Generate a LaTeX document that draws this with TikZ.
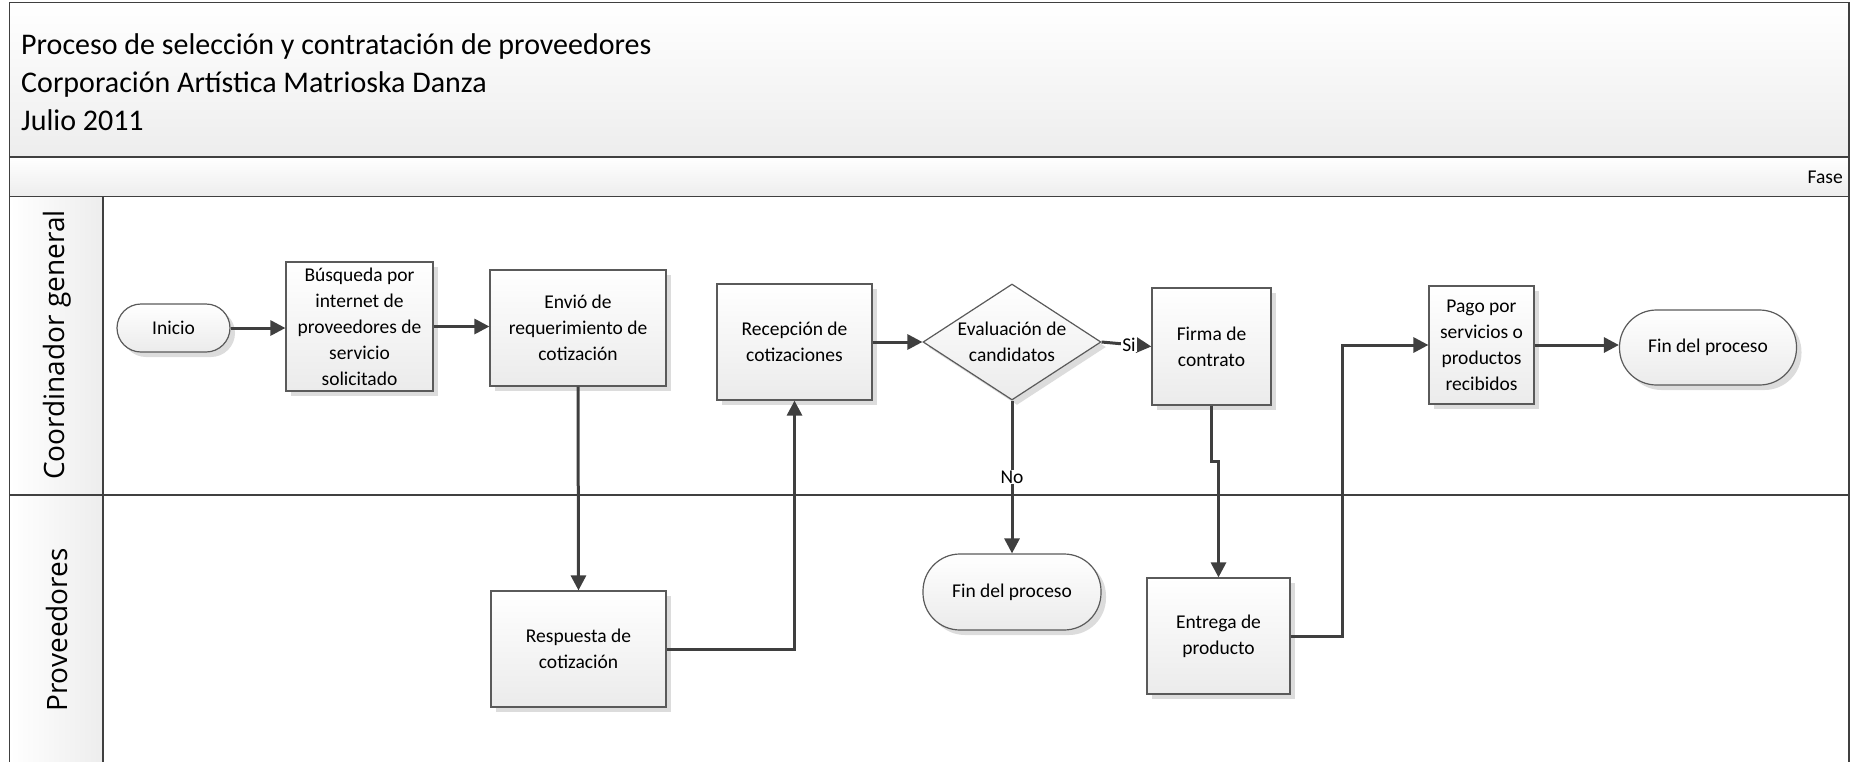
\documentclass[tikz,border=0pt]{standalone}
\usepackage{fontspec}
\setmainfont{Carlito}
\newfontfamily\lanefont{Open Sans}
\usetikzlibrary{arrows.meta,shapes.geometric,shadows,calc}
\definecolor{frameln}{HTML}{404040}
\definecolor{boxln}{HTML}{5A5A5A}
\definecolor{arrln}{HTML}{3F3F3F}
\definecolor{boxbot}{HTML}{EBEBEB}
\definecolor{hdrbot}{HTML}{EDEDED}
\definecolor{shadowc}{HTML}{DCDCDC}
\tikzset{
  nodefont/.style={font=\fontsize{19.5}{26}\selectfont},
  stepbox/.style={rectangle, draw=boxln, line width=1.2pt, top color=white, bottom color=boxbot,
    align=center, inner sep=2pt, nodefont,
    drop shadow={shadow xshift=5pt, shadow yshift=-5pt, fill=shadowc, opacity=1}},
  termbox/.style={stepbox, rounded corners=#1},
  decbox/.style={diamond, draw=boxln, line width=1.2pt, top color=white, bottom color=boxbot,
    inner sep=0pt,
    drop shadow={shadow xshift=5pt, shadow yshift=-5pt, fill=shadowc, opacity=1}},
  arr/.style={draw=arrln, line width=3pt, -{Triangle[length=15pt,width=15pt]}},
  lbl/.style={fill=white, inner sep=1pt, nodefont},
  frame/.style={draw=frameln, line width=1.8pt},
  lanelbl/.style={rotate=90, font=\lanefont\fontsize{28}{30}\selectfont},
}
\begin{document}
\begin{tikzpicture}[x=1pt,y=-1pt]
\useasboundingbox (0,0) rectangle (1856,761);
% backgrounds
\shade[top color=white, bottom color=hdrbot] (9.5,2.5) rectangle (1849,157);
\shade[top color=white, bottom color=hdrbot] (9.5,157) rectangle (1849,196.5);
\shade[left color=white, right color=hdrbot] (9.5,196.5) rectangle (103,761);
% frame lines
\draw[frame] (9.5,770) -- (9.5,2.5) -- (1849,2.5) -- (1849,770);
\draw[frame] (9.5,157) -- (1849,157);
\draw[frame] (9.5,196.5) -- (1849,196.5);
\draw[frame] (103,196.5) -- (103,770);
\draw[frame] (9.5,495) -- (1849,495);
% titles
\node[anchor=west, align=left, inner sep=0pt, font=\fontsize{30}{38}\selectfont] (title) at (21,81.7)
  {Proceso de selección y contratación de proveedores\\Corporación Artística Matrioska Danza\\Julio 2011};
\node[anchor=east, inner sep=0pt, nodefont] (fase) at (1843,177) {Fase};
\node[lanelbl] (lane1) at (57,345) {Coordinador general};
\node[lanelbl] (lane2) at (57,630) {Proveedores};
% nodes
\node[termbox=24pt, minimum width=113pt, minimum height=48pt] (inicio) at (173.5,328) {Inicio};
\node[stepbox, minimum width=147pt, minimum height=129pt] (busq) at (359.5,326.5)
  {Búsqueda por\\internet de\\proveedores de\\servicio\\solicitado};
\node[stepbox, minimum width=176pt, minimum height=116pt] (envio) at (578,328)
  {Envió de\\requerimiento de\\cotización};
\node[stepbox, minimum width=155pt, minimum height=116pt] (recep) at (794.5,342)
  {Recepción de\\cotizaciones};
\node[decbox, minimum width=178pt, minimum height=116pt,
  label={[nodefont, align=center]center:Evaluación de\\candidatos}] (eval) at (1012,342) {};
\node[stepbox, minimum width=119pt, minimum height=117pt] (firma) at (1211.5,346.5)
  {Firma de\\contrato};
\node[stepbox, minimum width=105pt, minimum height=118pt] (pago) at (1481.5,345)
  {Pago por\\servicios o\\productos\\recibidos};
\node[termbox=37pt, minimum width=177pt, minimum height=75pt] (fin1) at (1708,347.5) {Fin del proceso};
\node[stepbox, minimum width=175pt, minimum height=116pt] (resp) at (578.5,649)
  {Respuesta de\\cotización};
\node[termbox=37pt, minimum width=178pt, minimum height=76pt] (fin2) at (1012,592) {Fin del proceso};
\node[stepbox, minimum width=143pt, minimum height=116pt] (entrega) at (1218.5,636)
  {Entrega de\\producto};
% connectors
\draw[arr] (inicio.east) -- (inicio.east -| busq.west);
\draw[arr] (busq.east) -- (busq.east -| envio.west);
\draw[arr] (envio.south) -- (resp.north);
\draw[arr] (resp.east) -| (recep.south);
\draw[arr] (recep.east) -- (recep.east -| eval.west);
\draw[arr] (eval.east) -- node[lbl, pos=0.55] (si) {Si} (firma.west);
\draw[arr] (eval.south) -- node[lbl, pos=0.5] (no) {No} (fin2.north);
\coordinate (jog1) at (firma.south |- 0,461);
\coordinate (jog2) at (entrega.north |- 0,461);
\draw[arr] (firma.south) -- (jog1) -- (jog2) -- (entrega.north);
\coordinate (up) at (1342,0);
\draw[arr] (entrega.east) -- (entrega.east -| up) |- (pago.west);
\draw[arr] (pago.east) -- (pago.east -| fin1.west);
\end{tikzpicture}
\end{document}
